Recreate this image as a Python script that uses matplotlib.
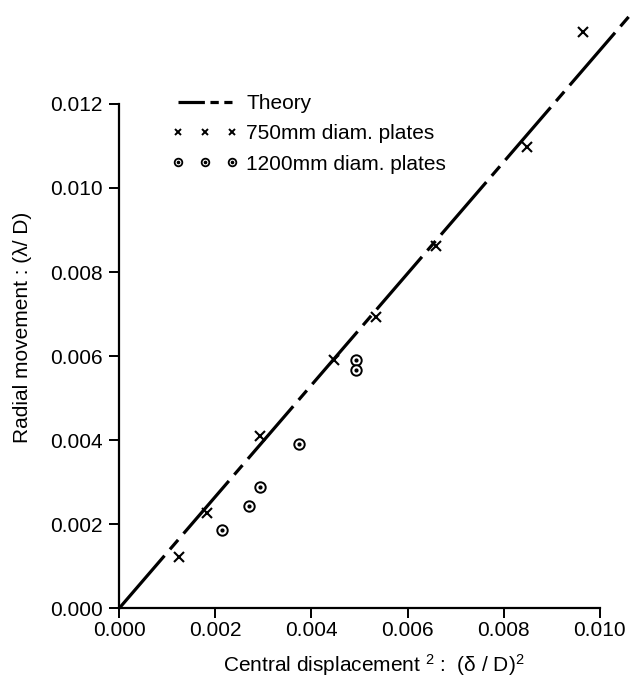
import matplotlib
matplotlib.use("Agg")
import matplotlib.pyplot as plt
from matplotlib.lines import Line2D
from matplotlib.legend_handler import HandlerTuple

plt.rcParams['font.family'] = ['Liberation Sans', 'DejaVu Sans']
plt.rcParams['mathtext.fontset'] = 'custom'
plt.rcParams['mathtext.rm'] = 'Liberation Sans'
plt.rcParams['mathtext.it'] = 'Liberation Sans'
plt.rcParams['lines.scale_dashes'] = False

# theory line end points
theory_x = [0.0, 0.01066]
theory_y = [0.0, 0.01415]

# 750mm diam. plates
x750 = [0.00125, 0.00182, 0.00292, 0.00448, 0.00535, 0.00660, 0.00849, 0.00966]
y750 = [0.00123, 0.00226, 0.00409, 0.00591, 0.00694, 0.00861, 0.01097, 0.01371]

# 1200mm diam. plates
x1200 = [0.00214, 0.00270, 0.00292, 0.00374, 0.00492, 0.00492]
y1200 = [0.00186, 0.00244, 0.00288, 0.00391, 0.00591, 0.00566]

xticks = [0.000, 0.002, 0.004, 0.006, 0.008, 0.010]
yticks = [0.000, 0.002, 0.004, 0.006, 0.008, 0.010, 0.012]

FS = 15

fig = plt.figure(figsize=(6.34, 6.77), dpi=100)
ax = fig.add_axes([0.188, 0.1015, 0.758, 0.745])

ax.plot(theory_x, theory_y, color='black', lw=2.3, clip_on=False,
        linestyle=(0, (50, 6, 9, 6)), solid_capstyle='butt', dash_capstyle='butt')
ax.plot(x750, y750, 'x', color='black', ms=6.5, mew=1.5, clip_on=False)
ax.plot(x1200, y1200, 'o', mfc='white', mec='black', ms=7.5, mew=1.4, clip_on=False)
ax.plot(x1200, y1200, 'o', color='black', ms=2, clip_on=False)

ax.set_xlim(0, 0.010)
ax.set_ylim(0, 0.012)
ax.set_xticks(xticks)
ax.set_yticks(yticks)
ax.set_xticklabels(['%.3f' % v for v in xticks])
ax.set_yticklabels(['%.3f' % v for v in yticks])
ax.tick_params(direction='out', length=7, width=1.4, labelsize=FS, colors='black')
ax.tick_params(axis='x', pad=2)
ax.tick_params(axis='y', pad=5)
for side in ['top', 'right']:
    ax.spines[side].set_visible(False)
for side in ['left', 'bottom']:
    ax.spines[side].set_linewidth(1.6)

fig.text(223 / 634, 5 / 677, r'Central displacement $^{2}$ :  (δ / D)$^2$',
         fontsize=FS, ha='left', va='baseline')
fig.text(23 / 634, 1 - 327 / 677, 'Radial movement : (λ/ D)',
         fontsize=FS, rotation=90, ha='center', va='center')

# legend with proxy handles
h_theory = Line2D([], [], color='black', lw=2.3, linestyle=(0, (19, 4, 6, 4, 6, 20)),
                  dash_capstyle='butt')
h750 = Line2D([], [], marker='x', ls='none', color='black', ms=5, mew=1.4)
h1200_ring = Line2D([], [], marker='o', ls='none', mfc='white', mec='black', ms=5.5, mew=1.3)
h1200_dot = Line2D([], [], marker='o', ls='none', color='black', ms=1.6)
ax.legend([h_theory, h750, (h1200_ring, h1200_dot)],
          ['Theory', '750mm diam. plates', '1200mm diam. plates'],
          handler_map={tuple: HandlerTuple(ndivide=1)},
          loc='upper left', bbox_to_anchor=(0.110, 1.02), frameon=False,
          numpoints=3, fontsize=FS, handlelength=3.2, handletextpad=0.35,
          labelspacing=0.55, borderpad=0, borderaxespad=0)

fig.savefig('out.png', dpi=100)
